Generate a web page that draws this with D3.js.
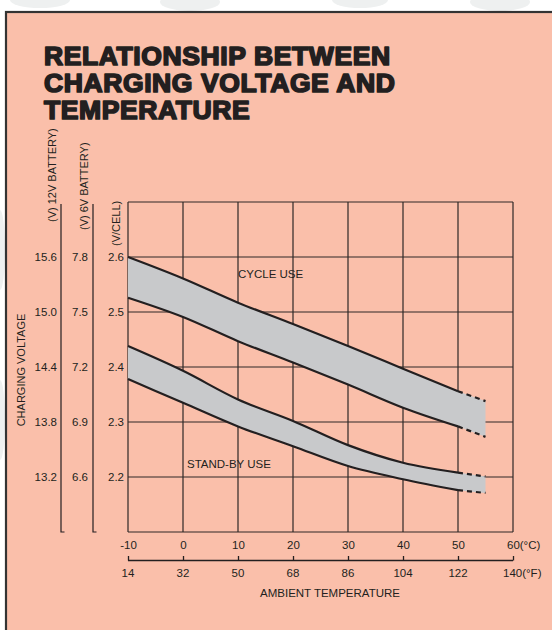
<!DOCTYPE html>
<html>
<head>
<meta charset="utf-8">
<script src="https://cdn.jsdelivr.net/npm/d3@7"></script>
<style>
  html, body { margin: 0; padding: 0; background: #ffffff; }
  svg { display: block; }
  text { font-family: "Liberation Sans", Arial, sans-serif; fill: #231f20; }
</style>
</head>
<body>
<svg id="chart" width="552" height="630"></svg>
<script>
// --- data ---
var titleLines  = ['RELATIONSHIP BETWEEN', 'CHARGING VOLTAGE AND', 'TEMPERATURE'];
var tempsC      = [-10, 0, 10, 20, 30, 40, 50, 55];
var cycleUpper  = [2.600, 2.561, 2.517, 2.478, 2.438, 2.397, 2.356, 2.338];
var cycleLower  = [2.526, 2.491, 2.447, 2.408, 2.368, 2.326, 2.292, 2.273];
var standUpper  = [2.438, 2.393, 2.341, 2.302, 2.258, 2.226, 2.208, 2.201];
var standLower  = [2.378, 2.335, 2.292, 2.256, 2.220, 2.196, 2.176, 2.171];
var cellTicks   = [2.2, 2.3, 2.4, 2.5, 2.6];
var v6Ticks     = ['6.6', '6.9', '7.2', '7.5', '7.8'];
var v12Ticks    = ['13.2', '13.8', '14.4', '15.0', '15.6'];
var cTicks      = [-10, 0, 10, 20, 30, 40, 50, 60];
var fTicks      = [14, 32, 50, 68, 86, 104, 122, 140];

var SOLID_END = 50;   // beyond this the curves are drawn dashed

var svg = d3.select('#chart');

// faint watermark shapes outside the frame
var wm = svg.append('g').attr('fill', '#eef0f0');
wm.append('ellipse').attr('cx', 40).attr('cy', 0).attr('rx', 30).attr('ry', 8);
wm.append('ellipse').attr('cx', 190).attr('cy', 2).attr('rx', 30).attr('ry', 9);
wm.append('ellipse').attr('cx', 360).attr('cy', 0).attr('rx', 28).attr('ry', 8);
wm.append('ellipse').attr('cx', 500).attr('cy', 2).attr('rx', 30).attr('ry', 9);
wm.append('ellipse').attr('cx', 0).attr('cy', 250).attr('rx', 5).attr('ry', 40);
wm.append('ellipse').attr('cx', 0).attr('cy', 420).attr('rx', 5).attr('ry', 40);

// frame
svg.append('rect')
  .attr('x', 6).attr('y', 12)
  .attr('width', 560).attr('height', 640)
  .attr('fill', '#fabfaa')
  .attr('stroke', '#333333')
  .attr('stroke-width', 2.2);

// title
svg.append('g').selectAll('text')
  .data(titleLines)
  .enter().append('text')
  .attr('x', 44)
  .attr('y', function (d, i) { return 64.5 + i * 27.4; })
  .style('font-size', '26.5px')
  .style('font-weight', 'bold')
  .style('letter-spacing', '0.6px')
  .style('stroke', '#231f20')
  .style('stroke-width', '1.7px')
  .style('stroke-linejoin', 'round')
  .text(function (d) { return d; });

// --- scales ---
var x = d3.scaleLinear().domain([-10, 60]).range([128, 513]);
var xF = d3.scaleLinear().domain([14, 140]).range([128, 513]);
var y = d3.scaleLinear().domain([2.1, 2.7]).range([532, 202]);

// grid
var grid = svg.append('g').attr('stroke', '#2e2826').attr('stroke-width', 1.2);
grid.selectAll('line.v')
  .data(cTicks)
  .enter().append('line')
  .attr('x1', function (d) { return x(d); })
  .attr('x2', function (d) { return x(d); })
  .attr('y1', y(2.7)).attr('y2', y(2.1));
grid.selectAll('line.h')
  .data([2.1].concat(cellTicks, [2.7]))
  .enter().append('line')
  .attr('class', 'h')
  .attr('x1', x(-10)).attr('x2', x(60))
  .attr('y1', function (d) { return y(d); })
  .attr('y2', function (d) { return y(d); });

// bands
function pts(arr) {
  return tempsC.map(function (t, i) { return [t, arr[i]]; });
}
var area = d3.area()
  .x(function (d) { return x(d[0]); })
  .y0(function (d) { return y(d[2]); })
  .y1(function (d) { return y(d[1]); })
  .curve(d3.curveMonotoneX);
var line = d3.line()
  .x(function (d) { return x(d[0]); })
  .y(function (d) { return y(d[1]); })
  .curve(d3.curveMonotoneX);

function drawBand(upper, lower) {
  var rows = tempsC.map(function (t, i) { return [t, upper[i], lower[i]]; });
  svg.append('path')
    .datum(rows)
    .attr('d', area)
    .attr('fill', '#c8c9cb');
  [upper, lower].forEach(function (arr) {
    var p = pts(arr);
    svg.append('path')
      .datum(p.filter(function (d) { return d[0] <= SOLID_END; }))
      .attr('d', line)
      .attr('fill', 'none')
      .attr('stroke', '#231f20')
      .attr('stroke-width', 2.2);
    svg.append('path')
      .datum(p.filter(function (d) { return d[0] >= SOLID_END; }))
      .attr('d', line)
      .attr('fill', 'none')
      .attr('stroke', '#231f20')
      .attr('stroke-width', 2.2)
      .attr('stroke-dasharray', '5,4');
  });
}
drawBand(cycleUpper, cycleLower);
drawBand(standUpper, standLower);

// band labels
svg.append('text').attr('x', 238).attr('y', 278)
  .style('font-size', '11.5px').text('CYCLE USE');
svg.append('text').attr('x', 187).attr('y', 467.5)
  .style('font-size', '11.5px').text('STAND-BY USE');

// --- left axes ---
var yAx = svg.append('g').style('font-size', '11.5px');
yAx.selectAll('text.cell')
  .data(cellTicks)
  .enter().append('text')
  .attr('x', 124).attr('y', function (d) { return y(d) + 4; })
  .attr('text-anchor', 'end')
  .text(function (d) { return d.toFixed(1); });
yAx.selectAll('text.v6')
  .data(v6Ticks)
  .enter().append('text')
  .attr('x', 88).attr('y', function (d) { return y(+d / 3) + 4; })
  .attr('text-anchor', 'end')
  .text(function (d) { return d; });
yAx.selectAll('text.v12')
  .data(v12Ticks)
  .enter().append('text')
  .attr('x', 57).attr('y', function (d) { return y(+d / 6) + 4; })
  .attr('text-anchor', 'end')
  .text(function (d) { return d; });

// bracket lines for battery scales
[61, 93].forEach(function (lx) {
  svg.append('path')
    .attr('d', 'M' + lx + ',' + 204 + 'V' + y(2.1) + 'H' + (lx + 3.5))
    .attr('fill', 'none')
    .attr('stroke', '#231f20')
    .attr('stroke-width', 1.2);
});

function vlabel(txt, cx, yStart, size) {
  svg.append('text')
    .attr('transform', 'translate(' + cx + ',' + yStart + ') rotate(-90)')
    .style('font-size', size)
    .text(txt);
}
vlabel('(V) 12V BATTERY)', 56, 222, '11px');
vlabel('(V) 6V BATTERY)', 88, 230, '11px');
vlabel('(V/CELL)', 120, 246, '11px');
svg.append('text')
  .attr('transform', 'translate(25,' + 370 + ') rotate(-90)')
  .attr('text-anchor', 'middle')
  .style('font-size', '11px')
  .text('CHARGING VOLTAGE');

// --- bottom axes ---
var cAxis = d3.axisBottom(x).tickValues(cTicks).tickSize(0).tickPadding(0)
  .tickFormat(function (d) { return d; });
var cg = svg.append('g').attr('transform', 'translate(0,' + 541 + ')').call(cAxis);
cg.select('.domain').remove();
cg.selectAll('text')
  .style('font-size', '11.5px')
  .style('font-family', '"Liberation Sans", Arial, sans-serif')
  .attr('fill', '#231f20');
cg.selectAll('.tick').filter(function (d) { return d === 60; }).select('text')
  .attr('text-anchor', 'start').attr('dx', '-6.5px').text('60(°C)');

var fAxis = d3.axisTop(xF).tickValues(fTicks).tickSize(4.5).tickFormat('');
var fg = svg.append('g').attr('transform', 'translate(0,' + 560.5 + ')').call(fAxis);
fg.select('.domain').attr('stroke', '#231f20').attr('stroke-width', 1.3)
  .attr('d', 'M' + xF(14) + ',0H' + xF(140));
fg.selectAll('line').attr('stroke', '#231f20').attr('stroke-width', 1.3);

svg.append('g').selectAll('text')
  .data(fTicks)
  .enter().append('text')
  .attr('x', function (d) { return xF(d); })
  .attr('y', 577)
  .attr('text-anchor', function (d) { return d === 140 ? 'start' : 'middle'; })
  .attr('dx', function (d) { return d === 140 ? -10 : 0; })
  .style('font-size', '11.5px')
  .text(function (d) { return d === 140 ? '140(°F)' : d; });

svg.append('text')
  .attr('x', 330).attr('y', 597)
  .attr('text-anchor', 'middle')
  .style('font-size', '11.5px')
  .text('AMBIENT TEMPERATURE');
</script>
</body>
</html>
